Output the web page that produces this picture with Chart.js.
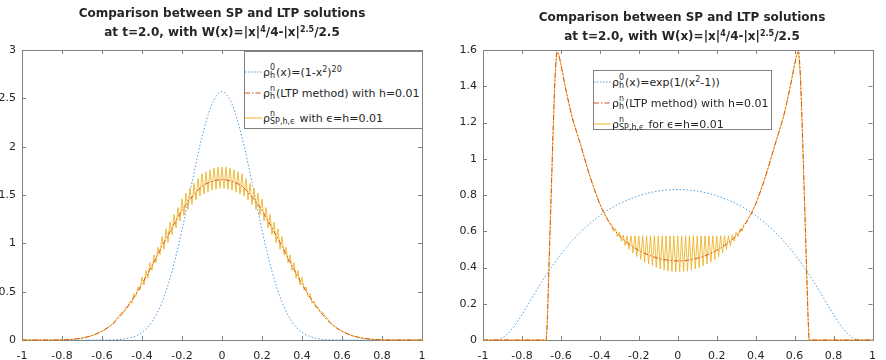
<!DOCTYPE html>
<html>
<head>
<meta charset="utf-8">
<script src="https://cdn.jsdelivr.net/npm/chart.js@4/dist/chart.umd.min.js"></script>
<style>
  html, body { margin: 0; padding: 0; background: #fff; }
  #wrap { position: relative; width: 886px; height: 360px; overflow: hidden; font-family: 'DejaVu Sans', sans-serif; color: #262626; }
  canvas { position: absolute; top: 0; }
  .title { position: absolute; width: 420px; text-align: center; font-weight: bold; font-size: 12px; line-height: 19px; white-space: nowrap; }
  .title sup, .lg sup { font-size: 8px; line-height: 0; vertical-align: 4px; }
  .lg { position: absolute; border: 1px solid #808080; background: #fff; font-size: 11px; box-sizing: border-box; }
  .row { position: absolute; left: 0; height: 20px; display: flex; align-items: center; white-space: nowrap; }
  .row svg { margin-right: 1px; }
  .ss { display: inline-flex; flex-direction: column; font-size: 8px; line-height: 8px; margin: 0 1px 0 0; }
</style>
</head>
<body>
<div id="wrap">
  <canvas id="left" width="443" height="360" style="left:0"></canvas>
  <canvas id="right" width="443" height="360" style="left:443px"></canvas>

  <div class="title" style="left:12px; top:4px">Comparison between SP and LTP solutions<br>at t=2.0, with W(x)=|x|<sup>4</sup>/4-|x|<sup>2.5</sup>/2.5</div>
  <div class="title" style="left:472px; top:8px">Comparison between SP and LTP solutions<br>at t=2.0, with W(x)=|x|<sup>4</sup>/4-|x|<sup>2.5</sup>/2.5</div>

  <div class="lg" style="left:244px; top:51px; width:179px; height:78px">
    <div class="row" style="top:10px">
      <svg width="17" height="4"><line x1="0" y1="2" x2="17" y2="2" stroke="#4d9ee0" stroke-dasharray="1.5 1.5"/></svg>
      <span>ρ</span><span class="ss"><span>0</span><span>h</span></span><span>(x)=(1-x<sup>2</sup>)<sup>20</sup></span>
    </div>
    <div class="row" style="top:31px">
      <svg width="17" height="4"><line x1="0" y1="2" x2="17" y2="2" stroke="#d95319" stroke-dasharray="5 2 1.5 2"/></svg>
      <span>ρ</span><span class="ss"><span>n</span><span>h</span></span><span>(LTP method) with h=0.01</span>
    </div>
    <div class="row" style="top:56px">
      <svg width="17" height="4"><line x1="0" y1="2" x2="17" y2="2" stroke="#edb120"/></svg>
      <span>ρ</span><span class="ss"><span>n</span><span>SP,h,ϵ</span></span><span>&nbsp;with ϵ=h=0.01</span>
    </div>
  </div>

  <div class="lg" style="left:593px; top:70px; width:179px; height:60px">
    <div class="row" style="top:1px">
      <svg width="17" height="4"><line x1="0" y1="2" x2="17" y2="2" stroke="#4d9ee0" stroke-dasharray="1.5 1.5"/></svg>
      <span>ρ</span><span class="ss"><span>0</span><span>h</span></span><span>(x)=exp(1/(x<sup>2</sup>-1))</span>
    </div>
    <div class="row" style="top:22px">
      <svg width="17" height="4"><line x1="0" y1="2" x2="17" y2="2" stroke="#d95319" stroke-dasharray="5 2 1.5 2"/></svg>
      <span>ρ</span><span class="ss"><span>n</span><span>h</span></span><span>(LTP method) with h=0.01</span>
    </div>
    <div class="row" style="top:43px">
      <svg width="17" height="4"><line x1="0" y1="2" x2="17" y2="2" stroke="#edb120"/></svg>
      <span>ρ</span><span class="ss"><span>n</span><span>SP,h,ϵ</span></span><span>&nbsp;for ϵ=h=0.01</span>
    </div>
  </div>
</div>

<script>
// x grid shared by the smooth curves (step 0.05)
const GRID_X = [-1, -0.95, -0.9, -0.85, -0.8, -0.75, -0.7, -0.65, -0.6, -0.55, -0.5, -0.45, -0.4, -0.35,
  -0.3, -0.25, -0.2, -0.15, -0.1, -0.05, 0, 0.05, 0.1, 0.15, 0.2, 0.25, 0.3, 0.35, 0.4, 0.45, 0.5,
  0.55, 0.6, 0.65, 0.7, 0.75, 0.8, 0.85, 0.9, 0.95, 1];

// 왼쪽: rho0 = (1-x^2)^20
const LEFT_INIT = [0, 0, 0, 0, 0, 0, 0, 0, 0, 0.002, 0.008, 0.028, 0.079, 0.19, 0.39, 0.71, 1.14, 1.63, 2.10, 2.44,
  2.57, 2.44, 2.10, 1.63, 1.14, 0.71, 0.39, 0.19, 0.079, 0.028, 0.008, 0.002, 0, 0, 0, 0, 0, 0, 0, 0, 0];
const LEFT_LTP = [0, 0, 0, 0, 0.001, 0.007, 0.02, 0.045, 0.09, 0.16, 0.27, 0.41, 0.58, 0.77, 0.97, 1.16, 1.34, 1.48, 1.59, 1.64,
  1.66, 1.64, 1.59, 1.48, 1.34, 1.16, 0.97, 0.77, 0.58, 0.41, 0.27, 0.16, 0.09, 0.045, 0.02, 0.007, 0.001, 0, 0, 0, 0];
// SP solution oscillates on the h=0.01 grid, x = -0.5 .. 0.5
const LEFT_SP_X0 = -0.5;
const LEFT_SP = [0.29, 0.29, 0.34, 0.34, 0.40, 0.38, 0.48, 0.45, 0.55, 0.52,
  0.65, 0.57, 0.72, 0.64, 0.80, 0.72, 0.88, 0.80, 0.96, 0.88,
  1.07, 0.94, 1.15, 1.01, 1.22, 1.09, 1.30, 1.16, 1.37, 1.23,
  1.46, 1.29, 1.52, 1.35, 1.57, 1.40, 1.62, 1.45, 1.67, 1.49,
  1.72, 1.51, 1.74, 1.53, 1.76, 1.55, 1.78, 1.56, 1.79, 1.57,
  1.79,
  1.57, 1.79, 1.56, 1.78, 1.55, 1.76, 1.53, 1.74, 1.51, 1.72,
  1.49, 1.67, 1.45, 1.62, 1.40, 1.57, 1.35, 1.52, 1.29, 1.46,
  1.23, 1.37, 1.16, 1.30, 1.09, 1.22, 1.01, 1.15, 0.94, 1.07,
  0.88, 0.96, 0.80, 0.88, 0.72, 0.80, 0.64, 0.72, 0.57, 0.65,
  0.52, 0.55, 0.45, 0.48, 0.38, 0.40, 0.34, 0.34, 0.29, 0.29];

// 오른쪽: rho0 = exp(1/(x^2-1))
const RIGHT_INIT = [0, 0, 0.012, 0.061, 0.14, 0.229, 0.318, 0.399, 0.473, 0.538, 0.595, 0.644, 0.686, 0.722, 0.752, 0.776, 0.796, 0.811, 0.822, 0.828,
  0.83, 0.828, 0.822, 0.811, 0.796, 0.776, 0.752, 0.722, 0.686, 0.644, 0.595, 0.538, 0.473, 0.399, 0.318, 0.229, 0.14, 0.061, 0.012, 0, 0];
const RIGHT_LTP_X = [-1, -0.9, -0.8, -0.7, -0.675, -0.67, -0.66, -0.65, -0.64, -0.63, -0.62, -0.61, -0.6,
  -0.58, -0.56, -0.54, -0.52, -0.5, -0.45, -0.4, -0.35, -0.3, -0.25, -0.2, -0.15, -0.1, -0.05, 0,
  0.05, 0.1, 0.15, 0.2, 0.25, 0.3, 0.35, 0.4, 0.45, 0.5, 0.52, 0.54, 0.56, 0.58, 0.6,
  0.61, 0.62, 0.63, 0.64, 0.65, 0.66, 0.67, 0.675, 0.7, 0.8, 0.9, 1];
const RIGHT_LTP = [0, 0, 0, 0, 0, 0.1, 0.45, 0.8, 1.15, 1.45, 1.59, 1.57, 1.52,
  1.41, 1.31, 1.22, 1.15, 1.08, 0.90, 0.75, 0.645, 0.575, 0.529, 0.495, 0.469, 0.451, 0.440, 0.436,
  0.440, 0.451, 0.469, 0.495, 0.529, 0.575, 0.645, 0.75, 0.90, 1.08, 1.15, 1.22, 1.31, 1.41, 1.52,
  1.57, 1.59, 1.45, 1.15, 0.8, 0.45, 0.1, 0, 0, 0, 0, 0];
const RIGHT_SP_X0 = -0.34;
const RIGHT_SP = [0.64, 0.60, 0.615, 0.57, 0.595, 0.545, 0.58, 0.52, 0.575, 0.50,
  0.575, 0.48, 0.575, 0.46, 0.575, 0.445, 0.575, 0.43, 0.575, 0.42,
  0.575, 0.41, 0.575, 0.40, 0.575, 0.392, 0.575, 0.386, 0.575, 0.38,
  0.575, 0.378, 0.575, 0.377,
  0.575,
  0.377, 0.575, 0.378, 0.575, 0.38, 0.575, 0.386, 0.575, 0.392, 0.575,
  0.40, 0.575, 0.41, 0.575, 0.42, 0.575, 0.43, 0.575, 0.445, 0.575,
  0.46, 0.575, 0.48, 0.575, 0.50, 0.575, 0.52, 0.58, 0.545, 0.595,
  0.57, 0.615, 0.60, 0.64];

const SP_STEP = 0.01;
const BLUE = '#4d9ee0', ORANGE = '#d95319', YELLOW = 'rgba(237,177,32,0.85)';
const AXIS = '#808080', TEXT = '#262626';

const pts = (xs, ys) => xs.map((x, i) => ({ x, y: ys[i] }));
const spPts = (x0, ys) => ys.map((y, i) => ({ x: +(x0 + i * SP_STEP).toFixed(2), y }));

// SP curve = oscillating part + tails where it sits on the LTP curve
function spCurve(ltpX, ltpY, x0, osc) {
  const lim = Math.abs(x0) + 0.005;
  const tail = pts(ltpX, ltpY).filter((p) => Math.abs(p.x) > lim);
  return [...tail.filter((p) => p.x < 0), ...spPts(x0, osc), ...tail.filter((p) => p.x > 0)];
}

// 상자 + 안쪽으로 향한 눈금 (네 변 모두)
const frame = {
  id: 'frame',
  beforeDatasetsDraw(chart) {
    const { ctx, chartArea: a, scales: { x, y } } = chart;
    ctx.save();
    ctx.strokeStyle = AXIS;
    ctx.lineWidth = 1;
    ctx.beginPath();
    ctx.rect(Math.round(a.left) + 0.5, Math.round(a.top) + 0.5,
      Math.round(a.right - a.left), Math.round(a.bottom - a.top));
    x.ticks.forEach((t) => {
      const px = Math.round(x.getPixelForValue(t.value)) + 0.5;
      ctx.moveTo(px, a.bottom); ctx.lineTo(px, a.bottom - 4);
      ctx.moveTo(px, a.top); ctx.lineTo(px, a.top + 4);
    });
    y.ticks.forEach((t) => {
      const py = Math.round(y.getPixelForValue(t.value)) + 0.5;
      ctx.moveTo(a.left, py); ctx.lineTo(a.left + 4, py);
      ctx.moveTo(a.right, py); ctx.lineTo(a.right - 4, py);
    });
    ctx.stroke();
    ctx.restore();
  },
};

function panel(canvas, { init, ltp, sp, yMax, yStep, yWidth, padRight }) {
  const font = { family: 'DejaVu Sans', size: 11 };
  const fmt = (v) => String(Number(v.toFixed(1)));
  return new Chart(canvas, {
    type: 'line',
    data: {
      datasets: [
        { data: init, borderColor: BLUE, borderWidth: 1, borderDash: [1.5, 2], cubicInterpolationMode: 'monotone', order: 2 },
        { data: sp, borderColor: YELLOW, borderWidth: 1, tension: 0, order: 1 },
        { data: ltp, borderColor: ORANGE, borderWidth: 1, borderDash: [5, 2, 1.5, 2], cubicInterpolationMode: 'monotone', order: 0 },
      ],
    },
    options: {
      responsive: false,
      animation: false,
      devicePixelRatio: 1,
      layout: { padding: { top: 50, right: padRight, left: 0, bottom: 0 } },
      plugins: { legend: { display: false }, title: { display: false }, tooltip: { enabled: false } },
      elements: { point: { radius: 0 }, line: { fill: false } },
      datasets: { line: { clip: 3 } },
      scales: {
        x: {
          type: 'linear', min: -1, max: 1,
          grid: { display: false, drawTicks: false }, border: { display: false },
          ticks: { stepSize: 0.2, padding: 10, font, color: TEXT, callback: fmt, maxRotation: 0, autoSkip: false },
          afterFit: (s) => { s.height = 20; },
        },
        y: {
          min: 0, max: yMax,
          grid: { display: false, drawTicks: false }, border: { display: false },
          ticks: { stepSize: yStep, padding: 6, font, color: TEXT, callback: fmt },
          afterFit: (s) => { s.width = yWidth; },
        },
      },
    },
    plugins: [frame],
  });
}

panel(document.getElementById('left'), {
  init: pts(GRID_X, LEFT_INIT),
  ltp: pts(GRID_X, LEFT_LTP),
  sp: spCurve(GRID_X, LEFT_LTP, LEFT_SP_X0, LEFT_SP),
  yMax: 3, yStep: 0.5, yWidth: 22, padRight: 21,
});

panel(document.getElementById('right'), {
  init: pts(GRID_X, RIGHT_INIT),
  ltp: pts(RIGHT_LTP_X, RIGHT_LTP),
  sp: spCurve(RIGHT_LTP_X, RIGHT_LTP, RIGHT_SP_X0, RIGHT_SP),
  yMax: 1.6, yStep: 0.2, yWidth: 40, padRight: 4,
});
</script>
</body>
</html>
